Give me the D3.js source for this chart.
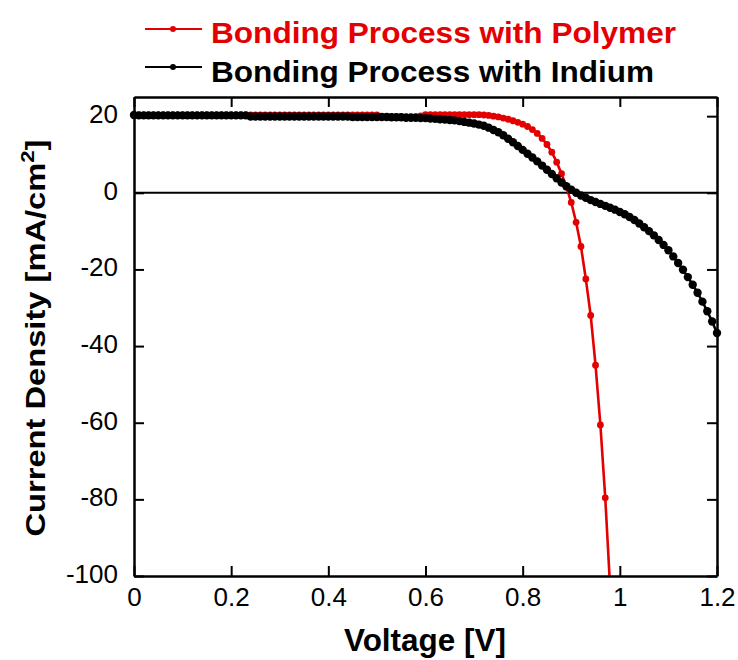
<!DOCTYPE html>
<html>
<head>
<meta charset="utf-8">
<script src="https://cdn.jsdelivr.net/npm/d3@7"></script>
<style>
  html, body { margin: 0; padding: 0; background: #fff; }
  svg { display: block; font-family: "Liberation Sans", Arial, sans-serif; }
</style>
</head>
<body>
<svg id="chart" width="738" height="660"></svg>
<script>
// ---------- data ----------
const seriesNames = ["Bonding Process with Polymer", "Bonding Process with Indium"];
const seriesColors = ["#e40000", "#000000"];

const voltage = [
  0.00,0.01,0.02,0.03,0.04,0.05,0.06,0.07,0.08,0.09,
  0.10,0.11,0.12,0.13,0.14,0.15,0.16,0.17,0.18,0.19,
  0.20,0.21,0.22,0.23,0.24,0.25,0.26,0.27,0.28,0.29,
  0.30,0.31,0.32,0.33,0.34,0.35,0.36,0.37,0.38,0.39,
  0.40,0.41,0.42,0.43,0.44,0.45,0.46,0.47,0.48,0.49,
  0.50,0.51,0.52,0.53,0.54,0.55,0.56,0.57,0.58,0.59,
  0.60,0.61,0.62,0.63,0.64,0.65,0.66,0.67,0.68,0.69,
  0.70,0.71,0.72,0.73,0.74,0.75,0.76,0.77,0.78,0.79,
  0.80,0.81,0.82,0.83,0.84,0.85,0.86,0.87,0.88,0.89,
  0.90,0.91,0.92,0.93,0.94,0.95,0.96,0.97,0.98,0.99,
  1.00,1.01,1.02,1.03,1.04,1.05,1.06,1.07,1.08,1.09,
  1.10,1.11,1.12,1.13,1.14,1.15,1.16,1.17,1.18,1.19,
  1.20
];

// Polymer (red), measured from 0.00 V to 0.98 V
const polymer = [
  20.3,20.3,20.3,20.3,20.3,20.3,20.3,20.3,20.3,20.3,
  20.3,20.3,20.3,20.3,20.3,20.3,20.3,20.3,20.3,20.3,
  20.3,20.3,20.3,20.3,20.3,20.3,20.3,20.3,20.3,20.3,
  20.3,20.3,20.3,20.3,20.3,20.3,20.3,20.3,20.3,20.3,
  20.3,20.3,20.3,20.3,20.3,20.3,20.3,20.3,20.3,20.3,
  20.3,19.9,19.9,19.9,19.9,19.9,19.9,19.9,19.9,20.1,
  20.4,20.4,20.4,20.4,20.4,20.4,20.4,20.4,20.4,20.4,
  20.4,20.4,20.3,20.2,20.0,19.8,19.5,19.2,18.8,18.4,
  17.9,17.3,16.5,15.5,14.2,12.6,10.6,8.0,5.0,1.5,
  -2.5,-7.7,-14.0,-22.5,-32.0,-45.0,-60.6,-79.6,-103.0
];

// Indium (black), measured from 0.00 V to 1.20 V
const indium = [
  20.3,20.2,20.2,20.2,20.2,20.2,20.2,20.2,20.2,20.2,
  20.2,20.2,20.2,20.2,20.2,20.2,20.2,20.2,20.2,20.2,
  20.2,20.2,20.2,20.2,19.9,19.9,19.9,19.9,19.9,19.9,
  19.9,19.9,19.9,19.9,19.9,19.9,19.9,19.9,19.9,19.9,
  19.9,19.9,19.9,19.9,19.9,19.8,19.8,19.8,19.8,19.8,
  19.8,19.8,19.8,19.7,19.7,19.7,19.6,19.6,19.6,19.5,
  19.5,19.4,19.3,19.2,19.1,19.0,18.9,18.7,18.5,18.3,
  18.1,17.8,17.5,17.0,16.4,15.8,15.0,14.1,13.2,12.2,
  11.2,10.2,9.2,8.2,7.1,6.0,4.9,3.8,2.7,1.7,
  0.8,0.0,-0.7,-1.3,-1.9,-2.4,-2.9,-3.4,-3.9,-4.4,
  -5.0,-5.6,-6.3,-7.1,-8.0,-9.0,-10.0,-11.1,-12.3,-13.6,
  -15.0,-16.6,-18.3,-20.1,-22.0,-24.0,-26.1,-28.4,-30.9,-33.6,
  -36.6
];

const xTicks = [0, 0.2, 0.4, 0.6, 0.8, 1.0, 1.2];
const xTickLabels = ["0", "0.2", "0.4", "0.6", "0.8", "1", "1.2"];
const yTicks = [20, 0, -20, -40, -60, -80, -100];
const yTickLabels = ["20", "0", "-20", "-40", "-60", "-80", "-100"];
const xDomain = [0, 1.2];
const yDomain = [-100, 25];
const xTitle = "Voltage [V]";
const yTitle = "Current Density [mA/cm";
const yTitleSup = "2";

// ---------- layout ----------
const svg = d3.select("#chart");
const L = 134, R = 717, T = 97, B = 576;
const x = d3.scaleLinear().domain(xDomain).range([L, R]);
const y = d3.scaleLinear().domain(yDomain).range([B, T]);

const series = [
  { name: seriesNames[0], color: seriesColors[0], pts: polymer.map((v, i) => [voltage[i], v]), r: 3.4, w: 2.6 },
  { name: seriesNames[1], color: seriesColors[1], pts: indium.map((v, i) => [voltage[i], v]), r: 4.2, w: 2.5 }
];

svg.append("defs").append("clipPath").attr("id", "clip")
  .append("rect").attr("x", L - 6).attr("y", T - 6).attr("width", R - L + 12).attr("height", B - T + 6);

// zero line
svg.append("line")
  .attr("x1", L).attr("x2", R).attr("y1", y(0)).attr("y2", y(0))
  .attr("stroke", "#000").attr("stroke-width", 2);

// series
const plot = svg.append("g").attr("clip-path", "url(#clip)");
const line = d3.line().x(d => x(d[0])).y(d => y(d[1]));
series.forEach(s => {
  const g = plot.append("g");
  g.append("path").attr("d", line(s.pts)).attr("fill", "none")
    .attr("stroke", s.color).attr("stroke-width", s.w);
  g.selectAll("circle").data(s.pts).join("circle")
    .attr("cx", d => x(d[0])).attr("cy", d => y(d[1])).attr("r", s.r)
    .attr("fill", s.color);
});

// axes (ticks inward on all sides)
const fontTick = 26;
const axB = d3.axisBottom(x).tickValues(xTicks).tickFormat((d, i) => xTickLabels[i])
  .tickSizeInner(-10).tickSizeOuter(0).tickPadding(12);
const axT = d3.axisTop(x).tickValues(xTicks).tickFormat("").tickSizeInner(-10).tickSizeOuter(0);
const axLft = d3.axisLeft(y).tickValues(yTicks).tickFormat((d, i) => yTickLabels[i])
  .tickSizeInner(-10).tickSizeOuter(0).tickPadding(16);
const axRgt = d3.axisRight(y).tickValues(yTicks).tickFormat("").tickSizeInner(-10).tickSizeOuter(0);

function styleAxis(g) {
  g.select(".domain").attr("stroke", "#000").attr("stroke-width", 2.5);
  g.selectAll(".tick line").attr("stroke", "#000").attr("stroke-width", 2);
  g.selectAll(".tick text").attr("font-size", fontTick).attr("fill", "#000")
    .attr("font-family", "'Liberation Sans', Arial, sans-serif");
}
svg.append("g").attr("transform", `translate(0,${B})`).call(axB).call(styleAxis);
svg.append("g").attr("transform", `translate(0,${T})`).call(axT).call(styleAxis);
const gl = svg.append("g").attr("transform", `translate(${L},0)`).call(axLft).call(styleAxis);
gl.selectAll(".tick text").attr("dy", "0.25em");
svg.append("g").attr("transform", `translate(${R},0)`).call(axRgt).call(styleAxis);

// axis titles
svg.append("text")
  .attr("x", 425).attr("y", 651).attr("text-anchor", "middle")
  .attr("font-size", 31).attr("font-weight", "bold").attr("fill", "#000")
  .attr("textLength", 162).attr("lengthAdjust", "spacingAndGlyphs")
  .text(xTitle);

const yt = svg.append("text")
  .attr("transform", `translate(45,338) rotate(-90)`)
  .attr("text-anchor", "middle")
  .attr("font-size", 28).attr("font-weight", "bold").attr("fill", "#000")
  .attr("textLength", 397).attr("lengthAdjust", "spacingAndGlyphs");
yt.append("tspan").text(yTitle);
yt.append("tspan").attr("font-size", 19).attr("dy", -11).text(yTitleSup);
yt.append("tspan").attr("dy", 11).text("]");

// legend
const legendY = [29, 67];
const legendBase = [43.3, 81.5];
const legendLen = [465, 443];
series.forEach((s, i) => {
  const g = svg.append("g");
  g.append("line").attr("x1", 145).attr("x2", 202).attr("y1", legendY[i]).attr("y2", legendY[i])
    .attr("stroke", s.color).attr("stroke-width", 2);
  g.append("circle").attr("cx", 173).attr("cy", legendY[i]).attr("r", 3).attr("fill", s.color);
  g.append("text").attr("x", 211).attr("y", legendBase[i])
    .attr("font-size", 29).attr("font-weight", "bold").attr("fill", s.color)
    .attr("textLength", legendLen[i]).attr("lengthAdjust", "spacingAndGlyphs")
    .text(s.name);
});
</script>
</body>
</html>
